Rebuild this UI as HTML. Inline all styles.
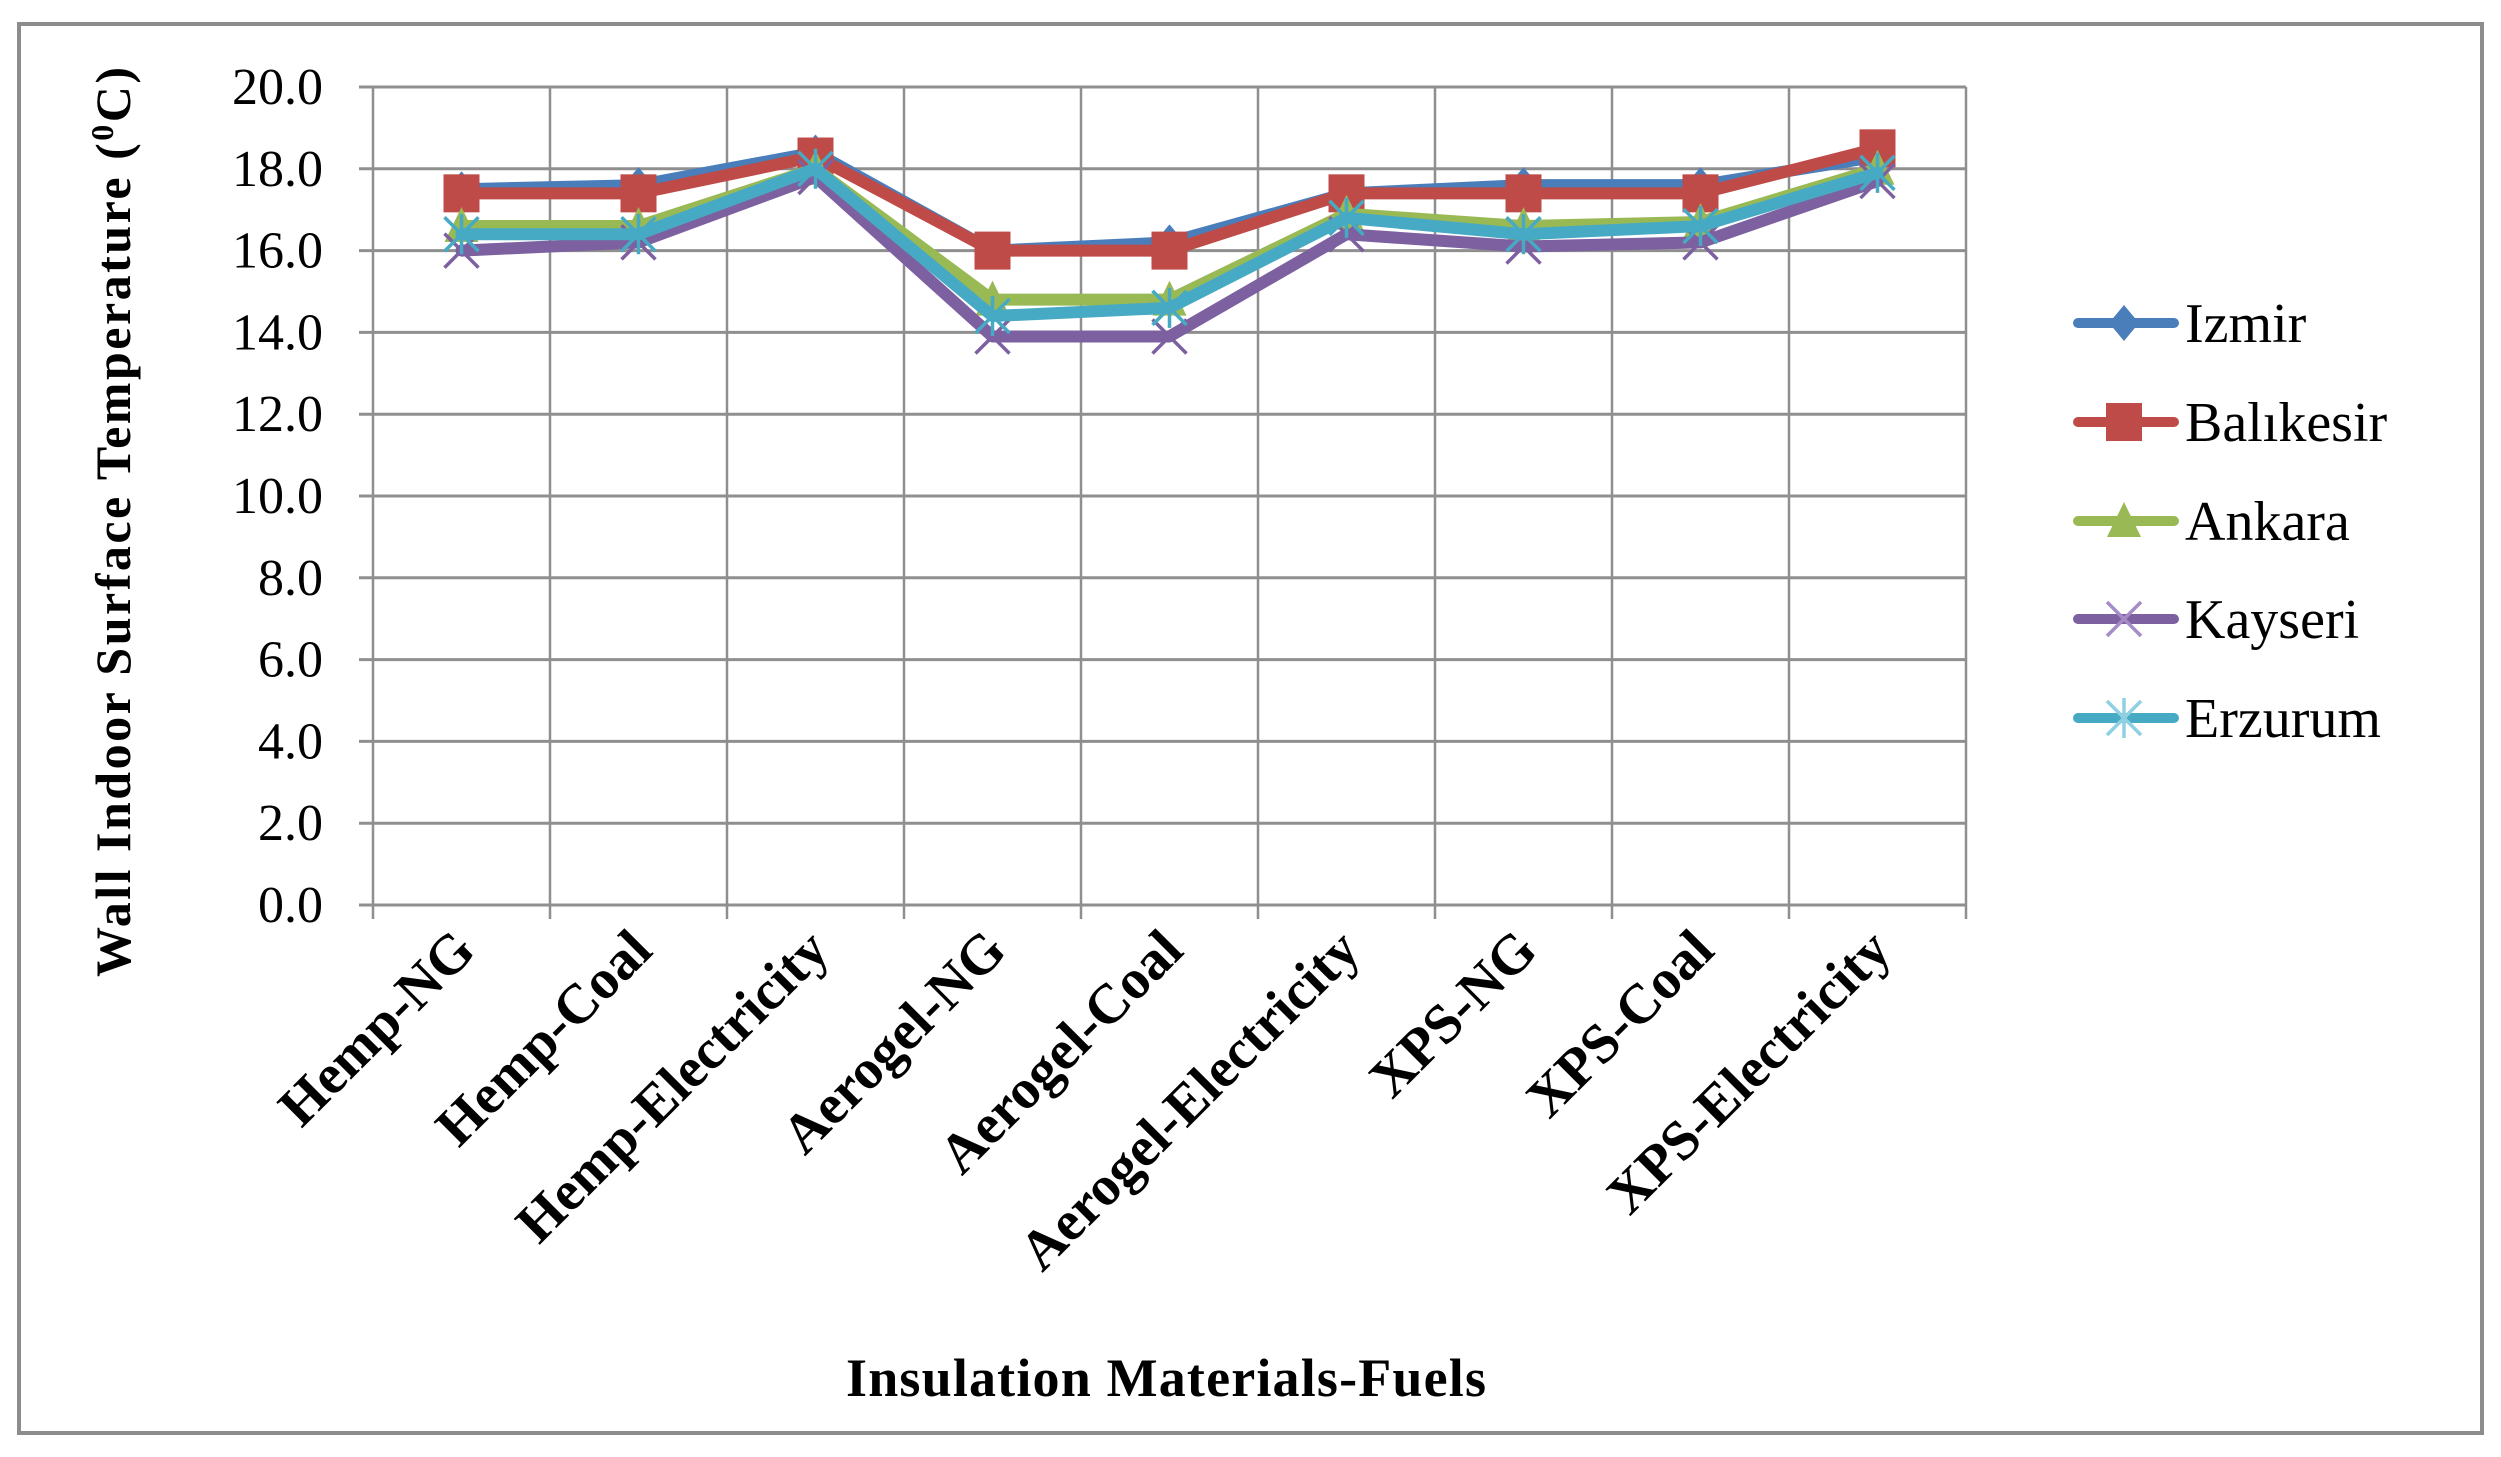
<!DOCTYPE html>
<html><head><meta charset="utf-8"><style>
html,body{margin:0;padding:0;background:#fff;}
svg{display:block;font-family:"Liberation Serif",serif;}
</style></head><body>
<svg id="chart" width="2501" height="1457" viewBox="0 0 2501 1457">
<rect x="19" y="24" width="2463" height="1409" fill="#fff" stroke="#8c8c8c" stroke-width="4"/>
<g id="grid"></g>
<g id="series"></g>
<g id="legend"></g>
<text x="0" y="0" transform="translate(130,522) rotate(-90)" text-anchor="middle" font-weight="bold" font-size="50" textLength="910">Wall  Indoor Surface Temperature (<tspan font-size="32" dy="-17">0</tspan><tspan dy="17">C)</tspan></text>
<text x="1166" y="1396" text-anchor="middle" font-weight="bold" font-size="54" textLength="640">Insulation Materials-Fuels</text>
</svg>
<script>
const categories = ["Hemp-NG","Hemp-Coal","Hemp-Electricity","Aerogel-NG","Aerogel-Coal","Aerogel-Electricity","XPS-NG","XPS-Coal","XPS-Electricity"];
const seriesNames = ["Izmir","Balıkesir","Ankara","Kayseri","Erzurum"];
const izmir = [17.5,17.6,18.4,16.0,16.2,17.4,17.6,17.6,18.3];
const balikesir = [17.4,17.4,18.3,16.0,16.0,17.4,17.4,17.4,18.5];
const ankara = [16.6,16.6,18.0,14.8,14.8,16.9,16.6,16.7,18.0];
const kayseri = [16.0,16.2,17.8,13.9,13.9,16.4,16.1,16.2,17.7];
const erzurum = [16.4,16.4,18.0,14.4,14.6,16.8,16.4,16.6,17.9];
const yTicks = [0,2,4,6,8,10,12,14,16,18,20];

const NS="http://www.w3.org/2000/svg";
const L=373,R=1966,T=87,B=905,YMAX=20;
const band=(R-L)/categories.length;
const xs=i=>L+band*(i+0.5);
const ys=v=>B-(v/YMAX)*(B-T);
function mk(tag,attrs,parent){const e=document.createElementNS(NS,tag);for(const k in attrs)e.setAttribute(k,attrs[k]);parent.appendChild(e);return e;}
const grid=document.getElementById('grid');
yTicks.forEach(v=>{
  const l=mk('line',{x1:L-14,x2:R,y1:ys(v),y2:ys(v),stroke:'#8f8f8f','stroke-width':3},grid);
  
  
  const t=mk('text',{x:323,y:ys(v)+17,'text-anchor':'end','font-size':52},grid);
  t.textContent=v.toFixed(1);
  
  
});
for(let i=0;i<=categories.length;i++){
  const x=L+band*i;
  const l=mk('line',{x1:x,x2:x,y1:T,y2:B+14,stroke:'#8f8f8f','stroke-width':2.5},grid);
  
  
}
categories.forEach((c,i)=>{
  const x=xs(i)+16,y=B+48;
  const t=mk('text',{x:0,y:0,transform:`translate(${x},${y}) rotate(-45)`,'text-anchor':'end','font-size':56,'font-weight':'bold'},grid);
  t.textContent=c;
  
  
});
const colors=['#4a7ebb','#be4b48','#98b954','#7d60a0','#46aac5'];
const data=[izmir,balikesir,ankara,kayseri,erzurum];
function marker(k,x,y,g,col){
  if(k===0){mk('polygon',{points:`${x},${y-18} ${x+15},${y} ${x},${y+18} ${x-15},${y}`,fill:col},g);}
  else if(k===1){mk('rect',{x:x-18,y:y-19,width:36,height:38,fill:col},g);}
  else if(k===2){mk('polygon',{points:`${x},${y-19} ${x+17},${y+16} ${x-17},${y+16}`,fill:col},g);}
  else if(k===3){mk('path',{d:`M${x-17},${y-17}L${x+17},${y+17}M${x+17},${y-17}L${x-17},${y+17}`,stroke:col,'stroke-width':3.5,fill:'none'},g);}
  else {mk('path',{d:`M${x-17},${y-17}L${x+17},${y+17}M${x+17},${y-17}L${x-17},${y+17}M${x},${y-20}L${x},${y+20}`,stroke:col,'stroke-width':3.5,fill:'none'},g);}
}
const sg=document.getElementById('series');
const markerCols=['#4a7ebb','#be4b48','#98b954','#a58cc6','#8fd0e2'];
data.forEach((arr,k)=>{
  const g=mk('g',{},sg);
  
  
  const pts=arr.map((v,i)=>xs(i)+','+ys(v)).join(' ');
  const pl=mk('polyline',{points:pts,fill:'none',stroke:colors[k],'stroke-width':12,'stroke-linejoin':'round','stroke-linecap':'round'},g);
  
  
  arr.forEach((v,i)=>marker(k,xs(i),ys(v),g,colors[k]));
});
const lg=document.getElementById('legend');
const rowsY=[323,422,521,619,718];
seriesNames.forEach((n,k)=>{
  const g=mk('g',{},lg);
  
  
  const y=rowsY[k];
  mk('line',{x1:2078,x2:2174,y1:y,y2:y,stroke:colors[k],'stroke-width':10,'stroke-linecap':'round'},g);
  marker(k,2124,y,g,markerCols[k]);
  const t=mk('text',{x:2185,y:y+19,'font-size':56},g);
  t.textContent=n;
});
</script>
</body></html>
